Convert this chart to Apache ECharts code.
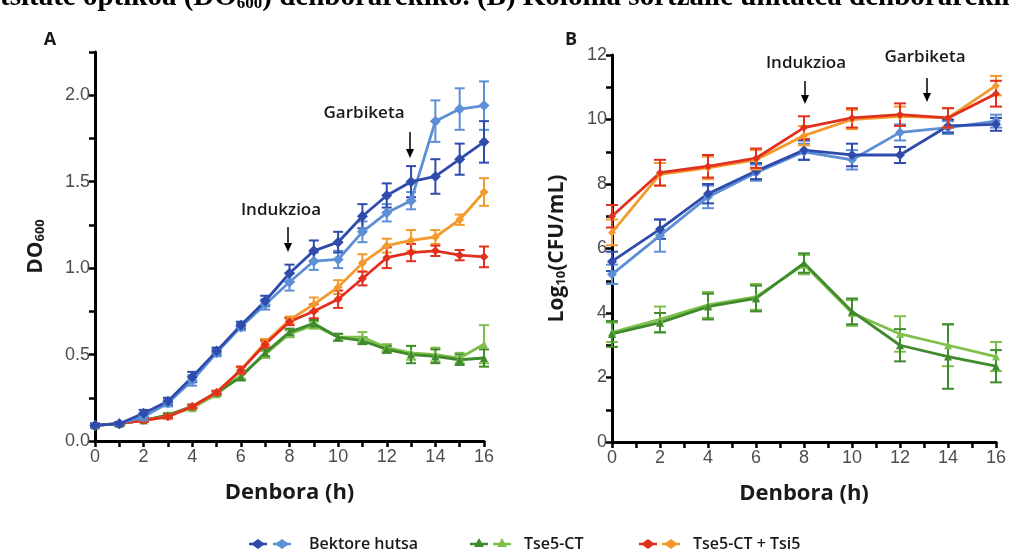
<!DOCTYPE html>
<html>
<head>
<meta charset="utf-8">
<script src="https://cdn.jsdelivr.net/npm/echarts@6/dist/echarts.min.js"></script>
<style>
  html, body { margin: 0; padding: 0; background: #fff; }
  #main { width: 1009px; height: 552px; }
</style>
</head>
<body>
<div id="main"></div>
<script>
// panel A: optical density, every hour
var hoursA = [0, 1, 2, 3, 4, 5, 6, 7, 8, 9, 10, 11, 12, 13, 14, 15, 16];
var emptyDarkA = [0.09, 0.10, 0.16, 0.23, 0.37, 0.52, 0.67, 0.81, 0.97, 1.10, 1.15, 1.30, 1.42, 1.50, 1.53, 1.63, 1.73];
var emptyDarkErrA = [0.01, 0.01, 0.02, 0.02, 0.03, 0.02, 0.02, 0.03, 0.05, 0.06, 0.06, 0.07, 0.07, 0.09, 0.10, 0.09, 0.12];
var emptyLightA = [0.09, 0.10, 0.14, 0.22, 0.35, 0.51, 0.66, 0.79, 0.92, 1.04, 1.05, 1.21, 1.32, 1.39, 1.85, 1.92, 1.94];
var emptyLightErrA = [0.01, 0.01, 0.02, 0.02, 0.03, 0.02, 0.02, 0.03, 0.05, 0.05, 0.05, 0.06, 0.05, 0.05, 0.12, 0.12, 0.14];
var tseDarkA = [0.09, 0.10, 0.12, 0.15, 0.20, 0.28, 0.37, 0.51, 0.63, 0.68, 0.60, 0.58, 0.53, 0.50, 0.49, 0.47, 0.48];
var tseDarkErrA = [0.01, 0.01, 0.01, 0.01, 0.01, 0.01, 0.02, 0.02, 0.02, 0.02, 0.02, 0.02, 0.02, 0.05, 0.04, 0.03, 0.05];
var tseLightA = [0.09, 0.10, 0.12, 0.15, 0.19, 0.27, 0.38, 0.50, 0.62, 0.67, 0.60, 0.60, 0.54, 0.51, 0.50, 0.48, 0.56];
var tseLightErrA = [0.01, 0.01, 0.01, 0.01, 0.01, 0.01, 0.02, 0.02, 0.02, 0.02, 0.02, 0.03, 0.02, 0.04, 0.04, 0.03, 0.11];
var tsiDarkA = [0.09, 0.10, 0.12, 0.14, 0.20, 0.28, 0.41, 0.56, 0.69, 0.75, 0.82, 0.94, 1.06, 1.09, 1.10, 1.075, 1.065];
var tsiDarkErrA = [0.01, 0.01, 0.01, 0.01, 0.01, 0.01, 0.02, 0.02, 0.02, 0.04, 0.05, 0.04, 0.06, 0.05, 0.03, 0.03, 0.06];
var tsiLightA = [0.09, 0.10, 0.12, 0.14, 0.20, 0.28, 0.41, 0.57, 0.70, 0.79, 0.89, 1.03, 1.13, 1.16, 1.18, 1.28, 1.44];
var tsiLightErrA = [0.01, 0.01, 0.01, 0.01, 0.01, 0.01, 0.02, 0.02, 0.02, 0.04, 0.04, 0.05, 0.04, 0.06, 0.04, 0.03, 0.08];

// panel B: log10 CFU/mL, every two hours
var hoursB = [0, 2, 4, 6, 8, 10, 12, 14, 16];
var emptyDarkB = [5.6, 6.6, 7.7, 8.4, 9.05, 8.9, 8.9, 9.8, 9.85];
var emptyDarkErrB = [0.3, 0.3, 0.3, 0.25, 0.3, 0.35, 0.25, 0.2, 0.2];
var emptyLightB = [5.2, 6.4, 7.6, 8.35, 9.0, 8.75, 9.6, 9.75, 9.95];
var emptyLightErrB = [0.3, 0.5, 0.35, 0.25, 0.25, 0.3, 0.25, 0.2, 0.2];
var tseDarkB = [3.35, 3.7, 4.2, 4.45, 5.55, 4.05, 3.0, 2.65, 2.35];
var tseDarkErrB = [0.4, 0.3, 0.4, 0.4, 0.3, 0.4, 0.5, 1.0, 0.5];
var tseLightB = [3.4, 3.8, 4.25, 4.5, 5.5, 4.0, 3.35, 3.0, 2.65];
var tseLightErrB = [0.3, 0.4, 0.4, 0.4, 0.3, 0.4, 0.55, 0.65, 0.45];
var tsiDarkB = [7.0, 8.35, 8.55, 8.8, 9.75, 10.05, 10.15, 10.05, 10.8];
var tsiDarkErrB = [0.35, 0.4, 0.35, 0.3, 0.35, 0.3, 0.35, 0.3, 0.4];
var tsiLightB = [6.5, 8.3, 8.5, 8.75, 9.5, 10.0, 10.1, 10.05, 11.05];
var tsiLightErrB = [0.4, 0.35, 0.35, 0.3, 0.3, 0.3, 0.3, 0.3, 0.3];

var legendNames = ['Bektore hutsa', 'Tse5-CT', 'Tse5-CT + Tsi5'];

var C = {
  blueD: '#2f4cad', blueL: '#5c8fd6',
  greenD: '#3e8a2c', greenL: '#7fc04c',
  red: '#e2301f', orange: '#f39a2c'
};
var sans = 'Open Sans';
var tickFont = 'Liberation Sans';

function lineSeries(ax, hours, vals, color, symbol, size, z) {
  return {
    type: 'line',
    xAxisIndex: ax, yAxisIndex: ax,
    data: hours.map(function (h, i) { return [h, vals[i]]; }),
    symbol: symbol, symbolSize: size,
    itemStyle: { color: color },
    lineStyle: { color: color, width: 2.8 },
    z: z, silent: true, animation: false
  };
}

function errSeries(ax, hours, vals, errs, color, cap, z) {
  return {
    type: 'custom',
    xAxisIndex: ax, yAxisIndex: ax,
    data: hours.map(function (h, i) { return [h, vals[i] - errs[i], vals[i] + errs[i]]; }),
    encode: { x: 0, y: [1, 2] },
    renderItem: function (params, api) {
      var lo = api.coord([api.value(0), api.value(1)]);
      var hi = api.coord([api.value(0), api.value(2)]);
      var st = { stroke: color, lineWidth: 2 };
      return {
        type: 'group',
        children: [
          { type: 'line', shape: { x1: lo[0], y1: lo[1], x2: hi[0], y2: hi[1] }, style: st },
          { type: 'line', shape: { x1: hi[0] - cap, y1: hi[1], x2: hi[0] + cap, y2: hi[1] }, style: st },
          { type: 'line', shape: { x1: lo[0] - cap, y1: lo[1], x2: lo[0] + cap, y2: lo[1] }, style: st }
        ]
      };
    },
    z: z, silent: true, animation: false
  };
}

function xAxisCfg(idx) {
  return {
    type: 'value', gridIndex: idx, min: 0, max: 16, interval: 1,
    name: 'Denbora (h)', nameLocation: 'middle', nameGap: 41,
    nameTextStyle: { fontFamily: sans, fontWeight: 'bold', fontSize: 22, color: '#1a1a1a' },
    axisLine: { onZero: false, lineStyle: { color: '#000', width: 3 } },
    axisTick: { length: 6, lineStyle: { color: '#000', width: 2.5 } },
    axisLabel: {
      fontFamily: tickFont, fontSize: 18, color: '#4d4d4d', margin: 7,
      formatter: function (v) { return v % 2 === 0 ? String(v) : ''; }
    },
    splitLine: { show: false }
  };
}

var nameRich = {
  a: { fontFamily: sans, fontWeight: 'bold', fontSize: 21, color: '#1a1a1a' },
  b: { fontFamily: sans, fontWeight: 'bold', fontSize: 13, color: '#1a1a1a', verticalAlign: 'bottom', padding: [9, 0, 0, 0] }
};

var option = {
  animation: false,
  backgroundColor: '#fff',
  grid: [
    { left: 95, width: 389, top: 52, bottom: 111 },
    { left: 612, width: 388, top: 55, bottom: 110 }
  ],
  xAxis: [xAxisCfg(0), xAxisCfg(1)],
  yAxis: [
    {
      type: 'value', gridIndex: 0, min: 0, max: 2.25, interval: 0.25,
      name: '{a|DO}{b|600}', nameLocation: 'middle', nameGap: 48,
      nameTextStyle: { rich: nameRich },
      axisLine: { lineStyle: { color: '#000', width: 3 } },
      axisTick: { length: 6, lineStyle: { color: '#000', width: 2.5 } },
      axisLabel: {
        fontFamily: tickFont, fontSize: 18, color: '#4d4d4d', margin: 5,
        formatter: function (v) {
          var k = Math.round(v * 100);
          return (k % 50 === 0 && k <= 200) ? v.toFixed(1) : '';
        }
      },
      splitLine: { show: false }
    },
    {
      type: 'value', gridIndex: 1, min: 0, max: 12, interval: 1,
      name: '{a|Log}{b|10}{a|(CFU/mL)}', nameLocation: 'middle', nameGap: 44,
      nameTextStyle: { rich: nameRich },
      axisLine: { lineStyle: { color: '#000', width: 3 } },
      axisTick: { length: 6, lineStyle: { color: '#000', width: 2.5 } },
      axisLabel: {
        fontFamily: tickFont, fontSize: 18, color: '#4d4d4d', margin: 5,
        formatter: function (v) { return v % 2 === 0 ? String(v) : ''; }
      },
      splitLine: { show: false }
    }
  ],
  series: [
    // panel A
    errSeries(0, hoursA, tseLightA, tseLightErrA, C.greenL, 5, 2),
    errSeries(0, hoursA, tseDarkA, tseDarkErrA, C.greenD, 5, 2),
    lineSeries(0, hoursA, tseLightA, C.greenL, 'triangle', 8, 3),
    lineSeries(0, hoursA, tseDarkA, C.greenD, 'triangle', 8, 3),
    errSeries(0, hoursA, tsiLightA, tsiLightErrA, C.orange, 5, 4),
    errSeries(0, hoursA, tsiDarkA, tsiDarkErrA, C.red, 5, 4),
    lineSeries(0, hoursA, tsiLightA, C.orange, 'diamond', 9, 5),
    lineSeries(0, hoursA, tsiDarkA, C.red, 'diamond', 9, 5),
    errSeries(0, hoursA, emptyLightA, emptyLightErrA, C.blueL, 5, 6),
    errSeries(0, hoursA, emptyDarkA, emptyDarkErrA, C.blueD, 5, 6),
    lineSeries(0, hoursA, emptyLightA, C.blueL, 'diamond', 11, 7),
    lineSeries(0, hoursA, emptyDarkA, C.blueD, 'diamond', 11, 7),
    // panel B
    errSeries(1, hoursB, tseLightB, tseLightErrB, C.greenL, 6, 2),
    errSeries(1, hoursB, tseDarkB, tseDarkErrB, C.greenD, 6, 2),
    lineSeries(1, hoursB, tseLightB, C.greenL, 'triangle', 8, 3),
    lineSeries(1, hoursB, tseDarkB, C.greenD, 'triangle', 8, 3),
    errSeries(1, hoursB, emptyLightB, emptyLightErrB, C.blueL, 6, 4),
    errSeries(1, hoursB, emptyDarkB, emptyDarkErrB, C.blueD, 6, 4),
    lineSeries(1, hoursB, emptyLightB, C.blueL, 'diamond', 10, 5),
    lineSeries(1, hoursB, emptyDarkB, C.blueD, 'diamond', 10, 5),
    errSeries(1, hoursB, tsiLightB, tsiLightErrB, C.orange, 6, 6),
    errSeries(1, hoursB, tsiDarkB, tsiDarkErrB, C.red, 6, 6),
    lineSeries(1, hoursB, tsiLightB, C.orange, 'diamond', 8, 7),
    lineSeries(1, hoursB, tsiDarkB, C.red, 'diamond', 8, 7)
  ],
  graphic: []
};

var chart = echarts.init(document.getElementById('main'), null, { renderer: 'canvas' });
chart.setOption(option);

// annotations, panel letters, caption strip and the paired legend
var g = [];
function label(x, y, text, size, align, weight) {
  g.push({ type: 'text', x: x, y: y, style: {
    text: text, fontFamily: sans, fontWeight: weight || 'bold', fontSize: size, fill: '#1a1a1a',
    align: align || 'center', verticalAlign: 'middle' } });
}
function arrow(x, y1, y2) {
  g.push({ type: 'line', shape: { x1: x, y1: y1, x2: x, y2: y2 - 7 }, style: { stroke: '#000', lineWidth: 1.5 } });
  g.push({ type: 'polygon', shape: { points: [[x - 4, y2 - 9], [x + 4, y2 - 9], [x, y2]] }, style: { fill: '#000' } });
}
label(281, 210, 'Indukzioa', 17, 'center', 600);
arrow(288, 227, 252);
label(364, 113, 'Garbiketa', 17, 'center', 600);
arrow(410, 132, 158);
label(806, 63, 'Indukzioa', 17, 'center', 600);
arrow(805, 81, 104);
label(925, 57, 'Garbiketa', 17, 'center', 600);
arrow(927, 78, 102);

label(50, 40, 'A', 18);
label(571, 40, 'B', 18);

g.push({ type: 'text', x: 0, y: 12, style: {
  text: '{m|tsitate optikoa (DO}{s|600}{m|) denborarekiko. (B) Kolonia sortzaile unitatea denborarekiko}',
  verticalAlign: 'bottom', align: 'left',
  rich: {
    m: { fontFamily: 'Liberation Serif', fontWeight: 'bold', fontSize: 29, fill: '#000', color: '#000' },
    s: { fontFamily: 'Liberation Serif', fontWeight: 'bold', fontSize: 17, fill: '#000', color: '#000', verticalAlign: 'bottom' }
  } } });

function legendMark(x, y, color, symbol) {
  g.push({ type: 'line', shape: { x1: x - 9, y1: y, x2: x + 9, y2: y }, style: { stroke: color, lineWidth: 2.5 } });
  var pts = symbol === 'triangle'
    ? [[x, y - 6], [x + 5, y + 3], [x - 5, y + 3]]
    : [[x, y - 5], [x + 7, y], [x, y + 5], [x - 7, y]];
  g.push({ type: 'polygon', shape: { points: pts }, style: { fill: color } });
}
var ly = 544;
legendMark(258, ly, C.blueD, 'diamond');
legendMark(282, ly, C.blueL, 'diamond');
label(309, ly, legendNames[0], 16, 'left', 600);
legendMark(479, ly, C.greenD, 'triangle');
legendMark(502, ly, C.greenL, 'triangle');
label(524, ly, legendNames[1], 16, 'left', 600);
legendMark(648, ly, C.red, 'diamond');
legendMark(671, ly, C.orange, 'diamond');
label(693, ly, legendNames[2], 16, 'left', 600);

chart.setOption({ graphic: g });
</script>
</body>
</html>
